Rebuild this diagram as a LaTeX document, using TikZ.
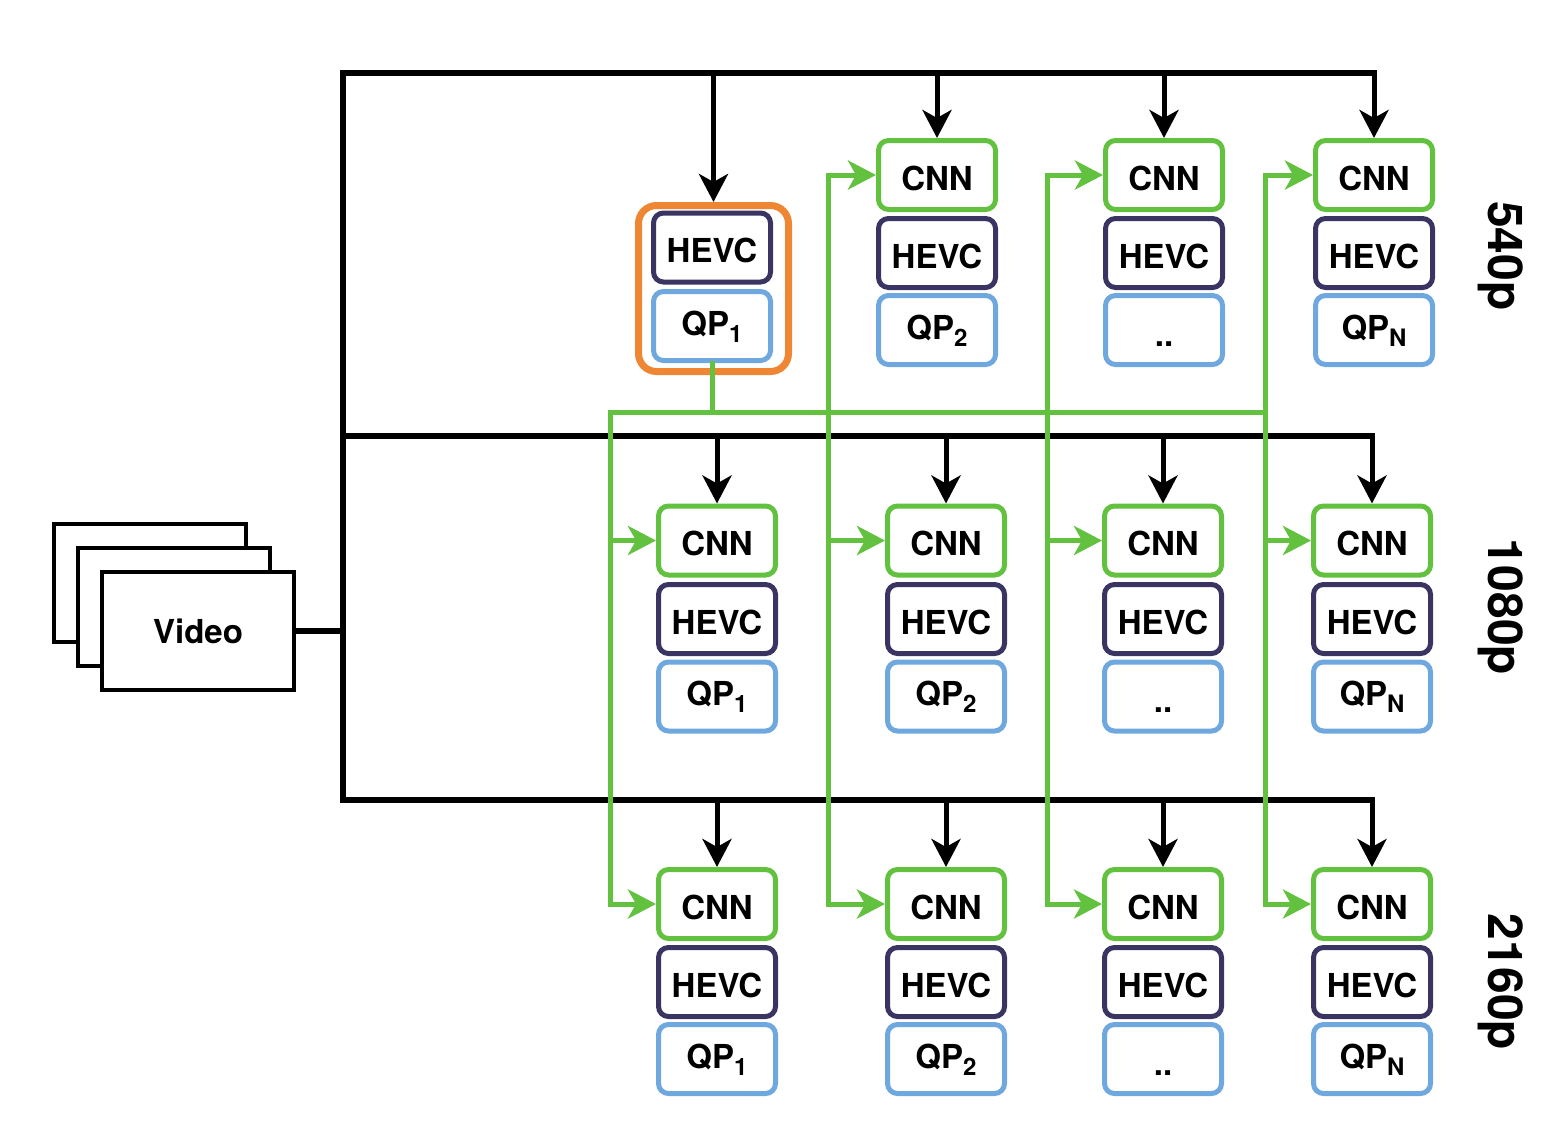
\documentclass[tikz,border=0pt]{standalone}
\usepackage{fontspec}
\setmainfont{TeX Gyre Heros}
\usetikzlibrary{arrows.meta}
\definecolor{cnngreen}{RGB}{98,194,64}
\definecolor{hevcnavy}{RGB}{58,52,98}
\definecolor{qpblue}{RGB}{111,168,222}
\definecolor{selorange}{RGB}{239,134,51}
\newcommand{\qpsub}[1]{QP\raisebox{-7pt}{\fontsize{24}{24}\selectfont #1}}
\tikzset{
  box/.style={draw, line width=5pt, rounded corners=10pt, minimum width=117pt,
    minimum height=69pt, inner sep=0pt, font=\fontsize{33}{38}\selectfont\bfseries,
    text height=30pt, text depth=0pt, fill=white},
  cnnbox/.style={box, draw=cnngreen},
  hevcbox/.style={box, draw=hevcnavy},
  qpbox/.style={box, draw=qpblue, text height=18pt},
  dotsbox/.style={box, draw=qpblue, text height=32pt},
  selbox/.style={draw=selorange, line width=7pt, rounded corners=18pt,
    minimum width=150pt, minimum height=166pt, inner sep=0pt},
  frame/.style={draw, line width=4.5pt, fill=white, minimum width=192pt,
    minimum height=118pt, inner sep=0pt},
  bus/.style={line width=5.5pt, black, line cap=rect},
  feed/.style={line width=5pt, black, -{Stealth[length=28pt,width=29pt,inset=8pt]}},
  gline/.style={line width=5pt, cnngreen, line cap=rect},
  garrow/.style={gline, -{Stealth[length=28pt,width=29pt,inset=8pt]}},
  reslabel/.style={rotate=-90, font=\fontsize{48}{48}\selectfont\bfseries}
}
\begin{document}
\begin{tikzpicture}[x=1pt,y=-1pt]
\useasboundingbox (0,0) rectangle (1564,1146);

% video stack
\node[frame] (v3) at (150,583) {};
\node[frame] (v2) at (174,607) {};
\node[frame, font=\fontsize{33}{38}\selectfont\bfseries] (video) at (198,631) {Video};

% row 1 (540p)
\node[selbox] (sel) at (713.5,288.5) {};
\node[hevcbox] (r1c1h) at (712,247.5) {HEVC};
\node[qpbox] (r1c1q) at (712,326) {\qpsub{1}};

\node[cnnbox] (r1c2c) at (937,175) {CNN};
\node[hevcbox] (r1c2h) at (937,253) {HEVC};
\node[qpbox] (r1c2q) at (937,330) {\qpsub{2}};

\node[cnnbox] (r1c3c) at (1164,175) {CNN};
\node[hevcbox] (r1c3h) at (1164,253) {HEVC};
\node[dotsbox] (r1c3q) at (1164,330) {..};

\node[cnnbox] (r1c4c) at (1374,175) {CNN};
\node[hevcbox] (r1c4h) at (1374,253) {HEVC};
\node[qpbox] (r1c4q) at (1374,330) {\qpsub{N}};

% row 2 (1080p)
\node[cnnbox] (r2c1c) at (717,540.5) {CNN};
\node[hevcbox] (r2c1h) at (717,619) {HEVC};
\node[qpbox] (r2c1q) at (717,696.5) {\qpsub{1}};

\node[cnnbox] (r2c2c) at (946,540.5) {CNN};
\node[hevcbox] (r2c2h) at (946,619) {HEVC};
\node[qpbox] (r2c2q) at (946,696.5) {\qpsub{2}};

\node[cnnbox] (r2c3c) at (1163,540.5) {CNN};
\node[hevcbox] (r2c3h) at (1163,619) {HEVC};
\node[dotsbox] (r2c3q) at (1163,696.5) {..};

\node[cnnbox] (r2c4c) at (1372,540.5) {CNN};
\node[hevcbox] (r2c4h) at (1372,619) {HEVC};
\node[qpbox] (r2c4q) at (1372,696.5) {\qpsub{N}};

% row 3 (2160p)
\node[cnnbox] (r3c1c) at (717,904) {CNN};
\node[hevcbox] (r3c1h) at (717,982) {HEVC};
\node[qpbox] (r3c1q) at (717,1059) {\qpsub{1}};

\node[cnnbox] (r3c2c) at (946,904) {CNN};
\node[hevcbox] (r3c2h) at (946,982) {HEVC};
\node[qpbox] (r3c2q) at (946,1059) {\qpsub{2}};

\node[cnnbox] (r3c3c) at (1163,904) {CNN};
\node[hevcbox] (r3c3h) at (1163,982) {HEVC};
\node[dotsbox] (r3c3q) at (1163,1059) {..};

\node[cnnbox] (r3c4c) at (1372,904) {CNN};
\node[hevcbox] (r3c4h) at (1372,982) {HEVC};
\node[qpbox] (r3c4q) at (1372,1059) {\qpsub{N}};

% resolution labels
\node[reslabel] (l540) at (1501,256) {540p};
\node[reslabel] (l1080) at (1501,607) {1080p};
\node[reslabel] (l2160) at (1501,982) {2160p};

% black buses
\coordinate (vin) at (343,631);
\coordinate (b1) at (343,73);
\coordinate (b2) at (343,436);
\coordinate (b3) at (343,800);
\draw[bus] (video.east) -- (vin);
\draw[bus] (r1c4c.north |- b1) -- (b1) -- (b3) -- (r3c4c.north |- b3);
\draw[bus] (b2) -- (r2c4c.north |- b2);
\foreach \n in {sel,r1c2c,r1c3c,r1c4c}
  \draw[feed] (\n.north |- b1) -- (\n.north);
\foreach \n in {r2c1c,r2c2c,r2c3c,r2c4c}
  \draw[feed] (\n.north |- b2) -- (\n.north);
\foreach \n in {r3c1c,r3c2c,r3c3c,r3c4c}
  \draw[feed] (\n.north |- b3) -- (\n.north);

% green distribution
\coordinate (gl) at (610,412);
\coordinate (g2) at (828,412);
\coordinate (g3) at (1047,412);
\coordinate (g4) at (1265,412);
\draw[gline] (r1c1q.south) -- (r1c1q.south |- gl);
\draw[gline] (gl) -- (g4);
\draw[garrow] (gl) -- (gl |- r3c1c.west) -- (r3c1c.west);
\draw[garrow] (gl |- r2c1c.west) -- (r2c1c.west);
\draw[garrow] (g2 |- r1c2c.west) -- (r1c2c.west);
\draw[garrow] (g2 |- r1c2c.west) -- (g2 |- r3c2c.west) -- (r3c2c.west);
\draw[garrow] (g2 |- r2c2c.west) -- (r2c2c.west);
\draw[garrow] (g3 |- r1c3c.west) -- (r1c3c.west);
\draw[garrow] (g3 |- r1c3c.west) -- (g3 |- r3c3c.west) -- (r3c3c.west);
\draw[garrow] (g3 |- r2c3c.west) -- (r2c3c.west);
\draw[garrow] (g4 |- r1c4c.west) -- (r1c4c.west);
\draw[garrow] (g4 |- r1c4c.west) -- (g4 |- r3c4c.west) -- (r3c4c.west);
\draw[garrow] (g4 |- r2c4c.west) -- (r2c4c.west);
\end{tikzpicture}
\end{document}
